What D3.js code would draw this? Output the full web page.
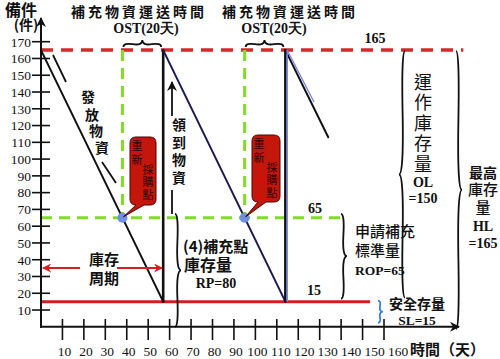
<!DOCTYPE html>
<html><head><meta charset="utf-8">
<script src="https://cdn.jsdelivr.net/npm/d3@7"></script>
<style>body{margin:0;background:#fff}svg{display:block}</style>
</head><body>
<svg id="c" width="500" height="359"></svg>
<script>
// ---- data ----
const days  = [0, 57, 57, 114, 114, 134];
const stock = [165, 15, 165, 15, 165, 113];
const segColors = ["#111", "#111", "#1b1b52", "#111", "#111"];
const xTicks = [10,20,30,40,50,60,70,80,90,100,110,120,130,140,150,160];
const yTicks = [10,20,30,40,50,60,70,80,90,100,110,120,130,140,150,160,170];
const HL = 165, ROP = 65, SL = 15;
const reorderDays = [38, 95];
const arrivalDays = [57, 114];
const hlEnd = 197, ropEnd = 139.5, slEnd = 153.5;

const CJK = "'Noto Sans CJK TC','Noto Sans CJK SC',sans-serif";
const SERIF = "'Liberation Serif','DejaVu Serif',serif";

const svg = d3.select("#c");
const x = d3.scaleLinear().domain([0,160]).range([41,384]);
const y = d3.scaleLinear().domain([0,170]).range([326.8,41.7]);

const defs = svg.append("defs");
function marker(id, color, size){
  defs.append("marker").attr("id",id).attr("viewBox","0 0 10 10").attr("refX",9).attr("refY",5)
    .attr("markerWidth",size).attr("markerHeight",size).attr("orient","auto-start-reverse")
    .attr("markerUnits","userSpaceOnUse")
    .append("path").attr("d","M0,0 L10,5 L0,10 L3,5 Z").attr("fill",color);
}
marker("ab","#111",10);
marker("ar","#d42020",9);

// ---- reference lines ----
svg.append("line").attr("x1",x(0)).attr("x2",x(hlEnd)).attr("y1",y(HL)).attr("y2",y(HL))
  .attr("stroke","#d42a2a").attr("stroke-width",3.5).attr("stroke-dasharray","12,8");
svg.append("line").attr("x1",x(0)).attr("x2",x(ropEnd)).attr("y1",y(ROP)).attr("y2",y(ROP))
  .attr("stroke","#80dc28").attr("stroke-width",3).attr("stroke-dasharray","11,7");
reorderDays.forEach(d=>{
  svg.append("line").attr("x1",x(d)).attr("x2",x(d)).attr("y1",y(HL)).attr("y2",y(ROP))
    .attr("stroke","#80dc28").attr("stroke-width",3).attr("stroke-dasharray","11,7");
});
svg.append("line").attr("x1",x(0)).attr("x2",x(slEnd)).attr("y1",y(SL)).attr("y2",y(SL))
  .attr("stroke","#d41e1e").attr("stroke-width",3);

// ---- axes ----
svg.append("line").attr("x1",x(0)).attr("x2",x(0)).attr("y1",y(0)+1).attr("y2",18)
  .attr("stroke","#111").attr("stroke-width",2).attr("marker-end","url(#ab)");
svg.append("line").attr("x1",x(0)-1).attr("x2",459).attr("y1",y(0)).attr("y2",y(0))
  .attr("stroke","#111").attr("stroke-width",2).attr("marker-end","url(#ab)");
const yt = svg.append("g");
yTicks.forEach(v=>{
  yt.append("line").attr("x1",32).attr("x2",50).attr("y1",y(v)).attr("y2",y(v)).attr("stroke","#111").attr("stroke-width",1.6);
  yt.append("text").attr("x",31).attr("y",y(v)).attr("dy","0.36em").attr("text-anchor","end")
    .attr("font-family",SERIF).attr("font-size",13.5).attr("fill","#111").text(v);
});
const xt = svg.append("g");
xTicks.forEach(v=>{
  xt.append("line").attr("x1",x(v)).attr("x2",x(v)).attr("y1",319).attr("y2",340).attr("stroke","#111").attr("stroke-width",1.6);
  const dx = v<100 ? 2 : 2 + (v-100)*0.2;
  xt.append("text").attr("x",x(v)+dx).attr("y",351).attr("dy","0.36em").attr("text-anchor","middle")
    .attr("font-family",SERIF).attr("font-size",13.5).attr("fill","#111").text(v);
});
svg.append("text").attr("x",410).attr("y",350).attr("dy","0.36em").attr("font-family",CJK).attr("font-weight","bold")
  .attr("font-size",15).attr("fill","#111").text("時間（天）");

// ---- sawtooth inventory ----
for(let i=0;i<days.length-1;i++){
  svg.append("line").attr("x1",x(days[i])).attr("y1",y(stock[i])).attr("x2",x(days[i+1])).attr("y2",y(stock[i+1]))
    .attr("stroke",segColors[i]).attr("stroke-width", days[i]===days[i+1]?2.6:2).attr("stroke-linecap","round");
}
// blue accents at second arrival
const ax = x(arrivalDays[1])+1.8;
svg.append("line").attr("x1",ax).attr("x2",ax).attr("y1",y(HL)).attr("y2",y(SL))
  .attr("stroke","#7a86e0").attr("stroke-width",1.5);
svg.append("line").attr("x1",ax).attr("y1",y(HL)).attr("x2",x(arrivalDays[1]+12.5)+1.8).attr("y2",y(HL-31))
  .attr("stroke","#7a86e0").attr("stroke-width",1.3);

// reorder points
reorderDays.forEach(d=>{
  svg.append("circle").attr("cx",x(d)).attr("cy",y(ROP)).attr("r",5).attr("fill","#6f8fe6");
});

// ---- callouts ----
function vText(s,cx,top,size,weight,fill,ls){
  return svg.append("text").attr("x",cx).attr("y",top)
    .style("writing-mode","vertical-rl").attr("text-anchor","start")
    .attr("font-family",CJK).attr("font-size",size).attr("font-weight",weight||"normal")
    .attr("letter-spacing",ls||0).attr("fill",fill||"#111").text(s);
}
function callout(bx,by,bw,bh,tx,ty,c1x,c2x){
  const r=6;
  const p = `M${bx+r},${by} H${bx+bw-r} Q${bx+bw},${by} ${bx+bw},${by+r} V${by+bh-r} Q${bx+bw},${by+bh} ${bx+bw-r},${by+bh}
   H${bx+14} L${tx},${ty} L${bx+6},${by+bh} H${bx+r} Q${bx},${by+bh} ${bx},${by+bh-r} V${by+r} Q${bx},${by} ${bx+r},${by} Z`;
  svg.append("path").attr("d",p).attr("fill","#c4160b").attr("stroke","#4a0500").attr("stroke-width",1);
  vText("重新",c1x,by+3,11,"normal","#2a0300",3);
  vText("採購點",c2x,by+27,11,"normal","#2a0300",1.5);
}
callout(130,137,26,68,x(reorderDays[0])+1,y(ROP)-1,137,148);
callout(252,135,28,67,x(reorderDays[1])+1,y(ROP)-1,259,272);

// ---- braces ----
function brace(x1,y1,x2,y2,w,q,color,sw){
  let dx=x1-x2, dy=y1-y2; const len=Math.hypot(dx,dy); dx/=len; dy/=len;
  const qx1=x1+q*w*dy, qy1=y1-q*w*dx;
  const qx2=(x1-.25*len*dx)+(1-q)*w*dy, qy2=(y1-.25*len*dy)-(1-q)*w*dx;
  const tx1=(x1-.5*len*dx)+w*dy, ty1=(y1-.5*len*dy)-w*dx;
  const qx3=x2+q*w*dy, qy3=y2-q*w*dx;
  const qx4=(x1-.75*len*dx)+(1-q)*w*dy, qy4=(y1-.75*len*dy)-(1-q)*w*dx;
  svg.append("path").attr("d",`M${x1},${y1} Q${qx1},${qy1} ${qx2},${qy2} T${tx1},${ty1} M${x2},${y2} Q${qx3},${qy3} ${qx4},${qy4} T${tx1},${ty1}`)
    .attr("fill","none").attr("stroke",color||"#111").attr("stroke-width",sw||1.8);
}
brace(x(arrivalDays[0])-2,47,x(reorderDays[0])+1,47,7,0.6);
brace(x(arrivalDays[1])-2,47,x(reorderDays[1])+1,47,7,0.6);
brace(405,y(HL)+1,405,y(SL)-4,6,0.6);
brace(456,y(0)+2,456,y(HL)+1,6,0.6);
brace(341,y(SL)-3,341,y(ROP)-4,6,0.6);
brace(378,y(0)-4,378,y(SL)-1,5,0.6,"#3d7be6",1.8);
brace(175,y(0),175,y(ROP)-4,6,0.6);

// ---- text helpers ----
function T(s,cx,cy,o){
  o=o||{};
  return svg.append("text").attr("x",cx).attr("y",cy).attr("dy",o.dy||"0.36em")
    .attr("text-anchor",o.anchor||"middle").attr("font-family",o.font||CJK)
    .attr("font-weight",o.weight||"bold").attr("font-size",o.size||14)
    .attr("letter-spacing",o.ls||0).attr("fill",o.fill||"#111").text(s);
}
// two-line label as one text element
function T2(lines,cx,cy,gap,o){
  o=o||{};
  const t = svg.append("text").attr("text-anchor","middle").attr("font-family",o.font||CJK)
    .attr("font-weight",o.weight||"bold").attr("fill","#111");
  lines.forEach((l,i)=>{
    t.append("tspan").attr("x",cx+(l[1]||0)).attr("y",cy+i*gap).attr("dy","0.36em")
      .attr("font-size",l[2]||o.size||14).text(l[0]);
  });
  return t;
}
T2([["備件",0,16],["(件)",5,14]],21,10,15);
T("補充物資運送時間",139,12,{size:14,ls:3});
T("OST(20天)",146,28,{size:14,font:SERIF});
T("補充物資運送時間",290,12,{size:14,ls:3});
T("OST(20天)",274,28,{size:14,font:SERIF});
T("165",375,38,{font:SERIF,size:14});
T("65",315,208,{font:SERIF,size:14});
T("15",314,290,{font:SERIF,size:14});

// 發放物資 diagonal
[["發",88,97],["放",92,115],["物",96,131],["資",102,148]].forEach(d=>T(d[0],d[1],d[2],{size:14}));
svg.append("line").attr("x1",53).attr("y1",55).attr("x2",66).attr("y2",82).attr("stroke","#111").attr("stroke-width",1.8);
svg.append("line").attr("x1",102).attr("y1",162).attr("x2",116).attr("y2",183).attr("stroke","#111").attr("stroke-width",1.8);

// 領到物資
svg.append("line").attr("x1",172).attr("x2",172).attr("y1",116).attr("y2",82).attr("stroke","#111").attr("stroke-width",1.8).attr("marker-end","url(#ab)");
vText("領到物資",179,118,14,"bold","#111",3.5);
svg.append("line").attr("x1",172).attr("x2",172).attr("y1",190).attr("y2",214).attr("stroke","#111").attr("stroke-width",1.8);

// 庫存周期
svg.append("line").attr("x1",80).attr("x2",43).attr("y1",268).attr("y2",268).attr("stroke","#d42020").attr("stroke-width",2).attr("marker-end","url(#ar)");
svg.append("line").attr("x1",117).attr("x2",x(arrivalDays[0])-1).attr("y1",268).attr("y2",268).attr("stroke","#d42020").attr("stroke-width",2).attr("marker-end","url(#ar)");
T2([["庫存"],["周期"]],104,260,19,{size:15});

// RP
T("(4)補充點",183,247,{size:15,anchor:"start"});
T("庫存量",208,265,{size:16});
T("RP=80",216,283,{font:SERIF,size:14});

// ROP
T("申請補充",355,232,{size:15,anchor:"start",weight:"500"});
T("標準量",355,251,{size:15,anchor:"start",weight:"500"});
T("ROP=65",355,270,{size:13.5,anchor:"start",font:SERIF});

// SL
T("安全存量",417,304,{size:14});
T("SL=15",417,320,{font:SERIF,size:13.5});

// OL
vText("運作庫存量",423,73,18,"normal","#111",2.5);
T("OL",423,182,{font:SERIF,size:14});
T("=150",423,198,{font:SERIF,size:14});

// HL
T("最高",483,173,{size:14});
T("庫存",483,190,{size:15,weight:"500"});
T("量",483,208,{size:15,weight:"500"});
T("HL",483,226,{font:SERIF,size:14});
T("=165",483,243,{font:SERIF,size:14});
</script>
</body></html>
